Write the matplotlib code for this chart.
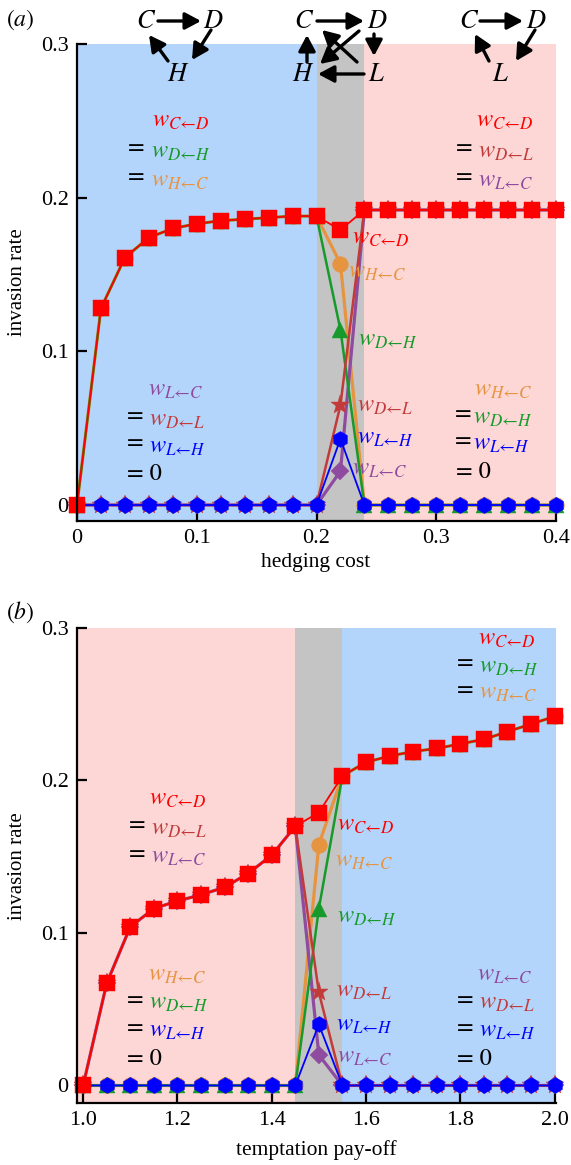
import matplotlib
matplotlib.use("Agg")
import matplotlib.pyplot as plt

# ---------------- data ----------------
hedging_cost = [0.0, 0.02, 0.04, 0.06, 0.08, 0.10, 0.12, 0.14, 0.16, 0.18, 0.20,
                0.22, 0.24, 0.26, 0.28, 0.30, 0.32, 0.34, 0.36, 0.38, 0.40]
a_CD = [0.0, 0.128, 0.161, 0.174, 0.180, 0.183, 0.185, 0.186, 0.187, 0.188, 0.188,
        0.179, 0.192, 0.192, 0.192, 0.192, 0.192, 0.192, 0.192, 0.192, 0.192]
a_DH = [0.0, 0.128, 0.161, 0.174, 0.180, 0.183, 0.185, 0.186, 0.187, 0.188, 0.188,
        0.114, 0.0, 0.0, 0.0, 0.0, 0.0, 0.0, 0.0, 0.0, 0.0]
a_HC = [0.0, 0.128, 0.161, 0.174, 0.180, 0.183, 0.185, 0.186, 0.187, 0.188, 0.188,
        0.157, 0.0, 0.0, 0.0, 0.0, 0.0, 0.0, 0.0, 0.0, 0.0]
a_DL = [0.0, 0.0, 0.0, 0.0, 0.0, 0.0, 0.0, 0.0, 0.0, 0.0, 0.0,
        0.065, 0.192, 0.192, 0.192, 0.192, 0.192, 0.192, 0.192, 0.192, 0.192]
a_LC = [0.0, 0.0, 0.0, 0.0, 0.0, 0.0, 0.0, 0.0, 0.0, 0.0, 0.0,
        0.022, 0.192, 0.192, 0.192, 0.192, 0.192, 0.192, 0.192, 0.192, 0.192]
a_LH = [0.0, 0.0, 0.0, 0.0, 0.0, 0.0, 0.0, 0.0, 0.0, 0.0, 0.0,
        0.043, 0.0, 0.0, 0.0, 0.0, 0.0, 0.0, 0.0, 0.0, 0.0]

temptation = [1.00, 1.05, 1.10, 1.15, 1.20, 1.25, 1.30, 1.35, 1.40, 1.45, 1.50,
              1.55, 1.60, 1.65, 1.70, 1.75, 1.80, 1.85, 1.90, 1.95, 2.00]
b_CD = [0.0, 0.067, 0.104, 0.116, 0.121, 0.125, 0.130, 0.139, 0.151, 0.170, 0.179,
        0.203, 0.212, 0.216, 0.219, 0.221, 0.224, 0.227, 0.232, 0.237, 0.242]
b_DH = [0.0, 0.0, 0.0, 0.0, 0.0, 0.0, 0.0, 0.0, 0.0, 0.0, 0.116,
        0.203, 0.212, 0.216, 0.219, 0.221, 0.224, 0.227, 0.232, 0.237, 0.242]
b_HC = [0.0, 0.0, 0.0, 0.0, 0.0, 0.0, 0.0, 0.0, 0.0, 0.0, 0.158,
        0.203, 0.212, 0.216, 0.219, 0.221, 0.224, 0.227, 0.232, 0.237, 0.242]
b_DL = [0.0, 0.067, 0.104, 0.116, 0.121, 0.125, 0.130, 0.139, 0.151, 0.170, 0.061,
        0.0, 0.0, 0.0, 0.0, 0.0, 0.0, 0.0, 0.0, 0.0, 0.0]
b_LC = [0.0, 0.067, 0.104, 0.116, 0.121, 0.125, 0.130, 0.139, 0.151, 0.170, 0.020,
        0.0, 0.0, 0.0, 0.0, 0.0, 0.0, 0.0, 0.0, 0.0, 0.0]
b_LH = [0.0, 0.0, 0.0, 0.0, 0.0, 0.0, 0.0, 0.0, 0.0, 0.0, 0.040,
        0.0, 0.0, 0.0, 0.0, 0.0, 0.0, 0.0, 0.0, 0.0, 0.0]

a_xticks = [0, 0.1, 0.2, 0.3, 0.4]
a_xticklabels = ["0", "0.1", "0.2", "0.3", "0.4"]
b_xticks = [1.0, 1.2, 1.4, 1.6, 1.8, 2.0]
b_xticklabels = ["1.0", "1.2", "1.4", "1.6", "1.8", "2.0"]
yticks = [0, 0.1, 0.2, 0.3]
yticklabels = ["0", "0.1", "0.2", "0.3"]

# ---------------- style ----------------
plt.rcParams['font.family'] = ['Liberation Serif', 'DejaVu Serif']
plt.rcParams['mathtext.fontset'] = 'stix'

RED = '#ff0000'
GREEN = '#179a2b'
ORANGE = '#e6943f'
BROWN = '#c23a3a'
BLUE = '#0000ff'
PURPLE = '#8e4b9f'
BG_BLUE = '#b4d5fb'
BG_PINK = '#fdd6d6'
BG_GRAY = '#c4c4c4'

W, H = 571, 1165
fig = plt.figure(figsize=(W / 100, H / 100), dpi=100)


def axes_px(left, top, right, bottom):
    return fig.add_axes([left / W, 1 - bottom / H, (right - left) / W, (bottom - top) / H])


def fx(x):
    return x / W


def fy(y):
    return 1 - y / H


ax1 = axes_px(77, 44, 556, 521)
ax2 = axes_px(77, 628, 556, 1103)


def draw(ax, x, CD, DH, HC, DL, LC, LH):
    specs = [
        (HC, ORANGE, 'o', 11.3, 2.3),
        (LC, PURPLE, 'D', 9.0, 2.3),
        (DH, GREEN, '^', 11.3, 1.8),
        (DL, BROWN, '*', 14.0, 1.8),
        (LH, BLUE, 'h', 11.5, 1.3),
        (CD, RED, 's', 12.0, 1.3),
    ]
    for i, (vals, c, m, ms, lw) in enumerate(specs):
        ax.plot(x, vals, color=c, lw=lw, marker=m, ms=ms, mec=c, mew=0.3,
                zorder=3 + i, clip_on=False, solid_joinstyle='miter')


def style(ax, xlim, ylim, xt, xtl):
    ax.set_xlim(*xlim)
    ax.set_ylim(*ylim)
    ax.set_xticks(xt)
    ax.set_xticklabels(xtl)
    ax.set_yticks(yticks)
    ax.set_yticklabels(yticklabels)
    for s in ['top', 'right']:
        ax.spines[s].set_visible(False)
    for s in ['left', 'bottom']:
        ax.spines[s].set_linewidth(1.6)
        ax.spines[s].set_zorder(10)
    ax.tick_params(direction='in', length=7, width=1.6, labelsize=16, pad=6)


# ---- panel a ----
ax1.axvspan(0.0, 0.2, color=BG_BLUE, lw=0, zorder=0)
ax1.axvspan(0.2, 0.24, color=BG_GRAY, lw=0, zorder=0)
ax1.axvspan(0.24, 0.4, color=BG_PINK, lw=0, zorder=0)
draw(ax1, hedging_cost, a_CD, a_DH, a_HC, a_DL, a_LC, a_LH)
style(ax1, (0, 0.4), (-0.0104, 0.3), a_xticks, a_xticklabels)

# ---- panel b ----
ax2.axvspan(0.98, 1.45, color=BG_PINK, lw=0, zorder=0)
ax2.axvspan(1.45, 1.55, color=BG_GRAY, lw=0, zorder=0)
ax2.axvspan(1.55, 2.01, color=BG_BLUE, lw=0, zorder=0)
draw(ax2, temptation, b_CD, b_DH, b_HC, b_DL, b_LC, b_LH)
style(ax2, (0.987, 2.003), (-0.0115, 0.3), b_xticks, b_xticklabels)

# axis labels
fig.text(fx(18), fy(282), 'invasion rate', rotation=90, ha='center', va='center', fontsize=15)
fig.text(fx(18), fy(866), 'invasion rate', rotation=90, ha='center', va='center', fontsize=15)
fig.text(fx(316), fy(562), 'hedging cost', ha='center', va='center', fontsize=15.5)
fig.text(fx(316), fy(1150), 'temptation pay-off', ha='center', va='center', fontsize=15.5)

# panel letters
fig.text(fx(20), fy(20), r'$(a)$', ha='center', va='center', fontsize=17)
fig.text(fx(20), fy(612), r'$(b)$', ha='center', va='center', fontsize=17)

LBL = {
    'CD': (r'$w_{C←D}$', RED),
    'DH': (r'$w_{D←H}$', GREEN),
    'HC': (r'$w_{H←C}$', ORANGE),
    'DL': (r'$w_{D←L}$', BROWN),
    'LC': (r'$w_{L←C}$', PURPLE),
    'LH': (r'$w_{L←H}$', BLUE),
}
FS = 17.5


def wl(key, x, y, eq=None):
    s, c = LBL[key]
    fig.text(fx(x), fy(y), s, color=c, ha='left', va='center', fontsize=FS, zorder=20)
    if eq is not None:
        fig.text(fx(eq), fy(y - 4), '=', color='k', ha='left', va='center',
                 fontsize=FS, family='STIXGeneral')


def zero(x, y):
    fig.text(fx(x), fy(y), '= 0', color='k', ha='left', va='center',
             fontsize=FS, family='STIXGeneral')


# panel a texts
wl('CD', 152, 121)
wl('DH', 151, 152, eq=128)
wl('HC', 151, 181, eq=128)
wl('CD', 476, 121)
wl('DL', 478, 152, eq=456)
wl('LC', 478, 181, eq=456)

wl('CD', 352, 238)
wl('HC', 348, 272)
wl('DH', 358, 340)
wl('DL', 357, 406)
wl('LH', 357, 438)
wl('LC', 352, 470)

wl('LC', 148, 391)
wl('DL', 149, 420, eq=127)
wl('LH', 149, 447, eq=127)
zero(127, 474)
wl('HC', 474, 390)
wl('DH', 473, 418, eq=455)
wl('LH', 473, 445, eq=455)
zero(456, 472)

# panel b texts
wl('CD', 478, 639)
wl('DH', 479, 667, eq=457)
wl('HC', 479, 694, eq=457)
wl('CD', 149, 799)
wl('DL', 151, 829, eq=129)
wl('LC', 151, 858, eq=129)

wl('CD', 337, 825)
wl('HC', 335, 861)
wl('DH', 337, 917)
wl('DL', 336, 992)
wl('LH', 336, 1025)
wl('LC', 337, 1057)

wl('HC', 148, 975)
wl('DH', 149, 1004, eq=127)
wl('LH', 149, 1032, eq=127)
zero(127, 1059)
wl('LC', 477, 975)
wl('DL', 479, 1004, eq=457)
wl('LH', 479, 1032, eq=457)
zero(457, 1059)

# ---- diagrams above panel a ----
def node(ch, x, y):
    fig.text(fx(x), fy(y), '$' + ch + '$', ha='center', va='center', fontsize=19, color='k')


def arrow(x0, y0, x1, y1):
    fig.add_artist(matplotlib.patches.FancyArrowPatch(
        (fx(x0), fy(y0)), (fx(x1), fy(y1)), transform=fig.transFigure,
        arrowstyle='-|>,head_length=0.6,head_width=0.32', mutation_scale=16,
        lw=2.4, color='k', shrinkA=0, shrinkB=0))


# diagram 1 (C, D, H)
node('C', 146, 22); node('D', 213, 22); node('H', 178, 75)
arrow(158, 21, 201, 21)
arrow(168, 61, 149, 35)
arrow(211, 30, 192, 60)
# diagram 2 (C, D, H, L)
node('C', 304, 22); node('D', 377, 22); node('H', 303, 75); node('L', 376, 75)
arrow(317, 21, 364, 21)
arrow(307, 62, 307, 35)
arrow(374, 34, 374, 56)
arrow(364, 74, 318, 74)
arrow(357, 62, 322, 30)
arrow(359, 31, 320, 64)
# diagram 3 (C, D, L)
node('C', 469, 22); node('D', 536, 22); node('L', 500, 75)
arrow(480, 21, 523, 21)
arrow(489, 61, 475, 34)
arrow(535, 30, 516, 61)

fig.savefig('out.png', dpi=100)
